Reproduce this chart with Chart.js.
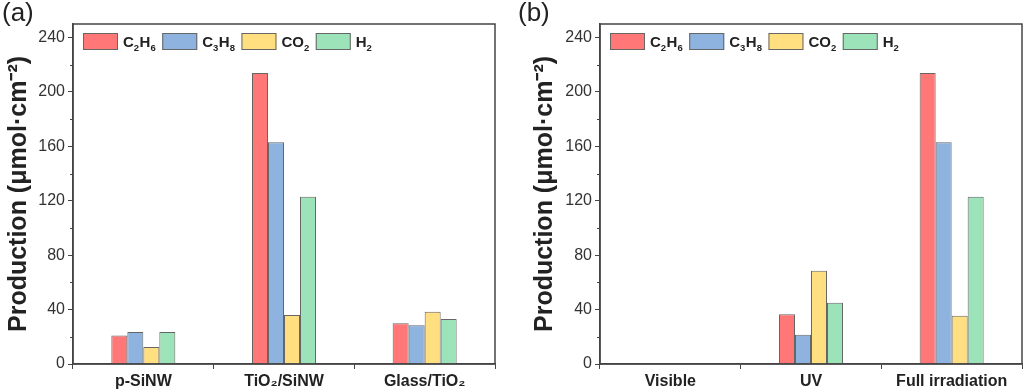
<!DOCTYPE html>
<html>
<head>
<meta charset="utf-8">
<script src="https://cdn.jsdelivr.net/npm/chart.js@4/dist/chart.umd.min.js"></script>
<style>
html, body { margin: 0; padding: 0; background: #fff; }
.panel { position: absolute; top: 0; width: 512px; height: 391px; }
.tag { position: absolute; top: -3px; font: 26px "Liberation Sans", Arial, sans-serif; color: #222; }
</style>
</head>
<body>
<div class="panel" style="left:0"><canvas id="chartA"></canvas><div class="tag" style="left:2px">(a)</div></div>
<div class="panel" style="left:512px"><canvas id="chartB"></canvas><div class="tag" style="left:6px">(b)</div></div>
<script>
const seriesNames = ['C₂H₆', 'C₃H₈', 'CO₂', 'H₂'];
const seriesColors = ['#ff7777', '#8db3de', '#ffdf80', '#9de3ba'];

const samplesA = ['p-SiNW', 'TiO₂/SiNW', 'Glass/TiO₂'];
const c2h6A = [21, 214, 30];
const c3h8A = [23.5, 163, 28.5];
const co2A = [12.5, 36, 38.5];
const h2A = [23.5, 123, 33];

const lightB = ['Visible', 'UV', 'Full irradiation'];
const c2h6B = [0, 36.5, 214];
const c3h8B = [0, 21.5, 163];
const co2B = [0, 68.5, 35.5];
const h2B = [0, 45, 123];

const yTicks = [0, 40, 80, 120, 160, 200, 240];
const yMinor = [20, 60, 100, 140, 180, 220];
const yTitle = 'Production (μmol·cm⁻²)';

const axisColor = '#444';
const fontFam = '"Liberation Sans", Arial, sans-serif';
const subDigits = { '₂': '2', '₃': '3', '₆': '6', '₈': '8' };

// draw a label, subscript characters smaller and lowered
function drawChem(ctx, text, x, y) {
    for (const ch of text) {
        if (subDigits[ch]) {
            ctx.font = 'bold 9.5px ' + fontFam;
            ctx.fillText(subDigits[ch], x, y + 4);
            x += ctx.measureText(subDigits[ch]).width + 0.5;
        } else {
            ctx.font = 'bold 15px ' + fontFam;
            ctx.fillText(ch, x, y);
            x += ctx.measureText(ch).width;
        }
    }
    return x;
}

// frame, minor ticks and the legend drawn inside the plot box
const framePlugin = {
    id: 'frame',
    afterDraw(chart) {
        const ctx = chart.ctx;
        const a = chart.chartArea;
        const y = chart.scales.y;
        ctx.save();
        ctx.strokeStyle = axisColor;
        ctx.lineWidth = 1.5;
        ctx.strokeRect(a.left, a.top, a.right - a.left, a.bottom - a.top);
        ctx.lineWidth = 1;
        yMinor.forEach(v => {
            const py = Math.round(y.getPixelForValue(v)) + 0.5;
            ctx.beginPath();
            ctx.moveTo(a.left - 3, py);
            ctx.lineTo(a.left, py);
            ctx.stroke();
        });

        let x = a.left + 10;
        const top = a.top + 9;
        ctx.textBaseline = 'alphabetic';
        chart.data.datasets.forEach(ds => {
            ctx.fillStyle = ds.backgroundColor;
            ctx.fillRect(x, top, 35, 17);
            ctx.strokeStyle = '#666';
            ctx.strokeRect(x + 0.5, top + 0.5, 34, 16);
            ctx.fillStyle = '#222';
            const end = drawChem(ctx, ds.label, x + 40, top + 13.5);
            x = end + 6;
        });
        ctx.restore();
    }
};

function makeChart(id, cats, values, leftW, rightPad, titlePad) {
    const canvas = document.getElementById(id);
    canvas.width = 512;
    canvas.height = 391;
    return new Chart(canvas, {
        type: 'bar',
        data: {
            labels: cats,
            datasets: values.map((vals, i) => ({
                label: seriesNames[i],
                data: vals,
                backgroundColor: seriesColors[i],
                borderColor: '#666',
                borderWidth: 1,
                barPercentage: 1,
                categoryPercentage: 0.455
            }))
        },
        options: {
            responsive: false,
            animation: false,
            layout: { padding: { left: 0, right: rightPad, top: 24, bottom: 0 } },
            plugins: { legend: { display: false }, tooltip: { enabled: false } },
            scales: {
                x: {
                    grid: { drawOnChartArea: false, tickLength: 5, color: axisColor, offset: true },
                    border: { color: axisColor, width: 1.5 },
                    ticks: {
                        color: '#222',
                        padding: 3,
                        maxRotation: 0,
                        font: { family: fontFam, size: 16, weight: 'bold' }
                    },
                    afterFit(s) { s.height = 27; }
                },
                y: {
                    min: 0,
                    max: 250,
                    grid: { drawOnChartArea: false, tickLength: 5, color: axisColor },
                    border: { color: axisColor, width: 1.5 },
                    ticks: {
                        color: '#333',
                        padding: 3,
                        font: { family: fontFam, size: 16 }
                    },
                    afterBuildTicks(s) { s.ticks = yTicks.map(v => ({ value: v })); },
                    title: {
                        display: true,
                        text: yTitle,
                        color: '#222',
                        padding: { top: titlePad, bottom: 0 },
                        font: { family: fontFam, size: 25, weight: 'bold' }
                    },
                    afterFit(s) { s.width = leftW; }
                }
            }
        },
        plugins: [framePlugin]
    });
}

makeChart('chartA', samplesA, [c2h6A, c3h8A, co2A, h2A], 73, 17, 4);
makeChart('chartB', lightB, [c2h6B, c3h8B, co2B, h2B], 88, 2, 18);
</script>
</body>
</html>
